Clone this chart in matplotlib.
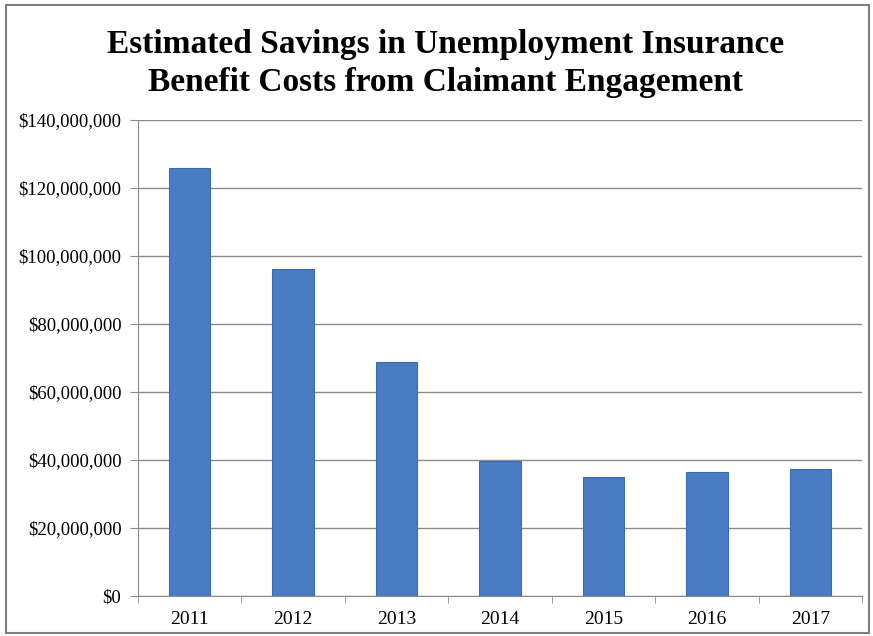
import matplotlib.pyplot as plt
from matplotlib.patches import Rectangle
from matplotlib.ticker import FuncFormatter, FixedLocator, NullFormatter

years = ["2011", "2012", "2013", "2014", "2015", "2016", "2017"]
savings = [126000000, 96200000, 68800000, 39800000, 35100000, 36600000, 37300000]

plt.rcParams["font.family"] = ["Liberation Serif", "DejaVu Serif"]

fig = plt.figure(figsize=(8.73, 6.36), dpi=100)
ax = fig.add_axes([138 / 873, 1 - 596 / 636, 724 / 873, 476 / 636])

x = list(range(len(years)))
ax.bar(x, savings, width=0.4, color="#4a7cc4", edgecolor="#3d6bb0", linewidth=0.8, zorder=3)

ax.set_xlim(-0.5, len(years) - 0.5)
ax.set_ylim(0, 140000000)
ax.set_yticks(range(0, 140000001, 20000000))
ax.yaxis.set_major_formatter(FuncFormatter(lambda v, p: "${:,.0f}".format(v)))
ax.grid(axis="y", color="#8c8c8c", linewidth=1, zorder=0)

# year labels centred under bars, tick marks at the category boundaries
ax.set_xticks(x)
ax.set_xticklabels(years)
ax.tick_params(axis="x", which="major", length=0, labelsize=14, pad=10.5)
ax.xaxis.set_minor_locator(FixedLocator([i - 0.5 for i in range(len(years) + 1)]))
ax.xaxis.set_minor_formatter(NullFormatter())
ax.tick_params(axis="x", which="minor", length=5, color="#8c8c8c", direction="out")
ax.tick_params(axis="y", length=6, color="#8c8c8c", labelsize=13.5, pad=6)

for side in ["top", "right"]:
    ax.spines[side].set_visible(False)
ax.spines["left"].set_color("#8c8c8c")
ax.spines["bottom"].set_color("#8c8c8c")

fig.text(446 / 873, 1 - 53 / 636, "Estimated Savings in Unemployment Insurance",
         ha="center", va="baseline", fontsize=24, fontweight="bold")
fig.text(446 / 873, 1 - 91 / 636, "Benefit Costs from Claimant Engagement",
         ha="center", va="baseline", fontsize=24, fontweight="bold")

# outer frame
fig.patches.append(Rectangle((6 / 873, 3 / 636), 863 / 873, 628 / 636, transform=fig.transFigure,
                             fill=False, edgecolor="#7f7f7f", linewidth=1.5))

fig.savefig("out.png", dpi=100)
